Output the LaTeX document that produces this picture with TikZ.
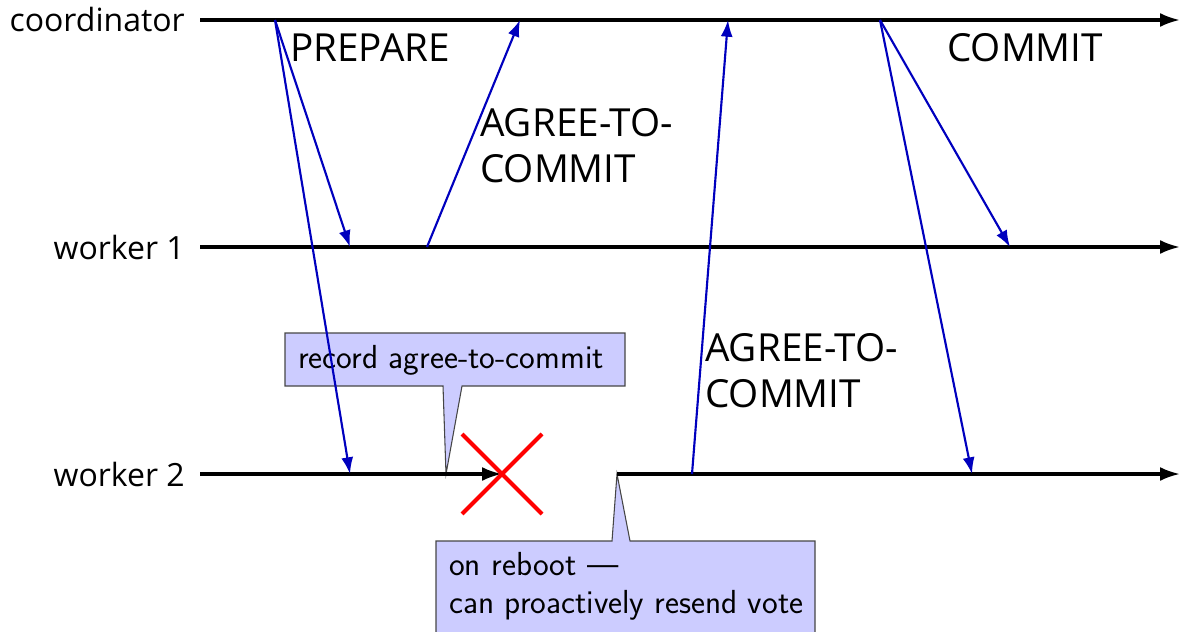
\documentclass[tikz,border=0pt]{standalone}
\usepackage{fontspec}
\usetikzlibrary{arrows.meta}
\newfontfamily\lblfont{Open Sans}
\definecolor{msgblue}{RGB}{0,0,190}
\definecolor{notefill}{RGB}{204,204,255}
\definecolor{noteedge}{RGB}{70,70,70}
\begin{document}
\begin{tikzpicture}[x=0.75pt,y=-0.75pt,
  timeline/.style={line width=2.3pt,-{Latex[length=15pt,width=10.5pt]}},
  msg/.style={msgblue,line width=1.6pt,-{Latex[length=12.5pt,width=9pt]}},
  proc/.style={font=\lblfont\fontsize{24}{28}\selectfont,anchor=east,inner sep=0pt},
  msglabel/.style={font=\lblfont\fontsize{29}{34}\selectfont,anchor=base west,inner sep=0pt,align=left},
  note/.style={fill=notefill,draw=noteedge,line width=0.8pt},
  notetext/.style={font=\sffamily\fontsize{25}{28.5}\selectfont,anchor=base west,inner sep=0pt,align=left},
  crash/.style={red,line width=3pt}]
\useasboundingbox (0,0) rectangle (1180,631);
\clip (0,0) rectangle (1180,631);

% process names
\node[proc] (coord) at (185,20) {coordinator};
\node[proc] (w1) at (185,247) {worker 1};
\node[proc] (w2) at (185,474) {worker 2};

% timeline anchors
\coordinate (cS) at (200,20);   \coordinate (cE) at (1180,20);
\coordinate (w1S) at (200,247); \coordinate (w1E) at (1180,247);
\coordinate (w2S) at (200,474); \coordinate (w2X) at (502,474);
\coordinate (w2R) at (617,474); \coordinate (w2E) at (1180,474);

% message events
\coordinate (c1) at (275,20);
\coordinate (w1a) at (350,247);
\coordinate (w2a) at (350,474);
\coordinate (w1b) at (427,247);
\coordinate (c2) at (520,20);
\coordinate (w2b) at (692,474);
\coordinate (c3) at (728,20);
\coordinate (c4) at (880,20);
\coordinate (w1c) at (1010,247);
\coordinate (w2c) at (972,474);

% callouts (drawn under the timelines)
\path[note] (285,333) -- (625,333) -- (625,386) -- (462,386) -- (446,474)
  -- (443,386) -- (285,386) -- cycle;
\node[notetext] (rec) at (298,368) {record agree-to-commit};
\path[note] (436,541) -- (612,541) -- (w2R) -- (630,541) -- (815,541)
  -- (815,660) -- (436,660) -- cycle;
\node[notetext] (reboot) at (449,613) {on reboot ---\\can proactively resend vote};

% timelines
\draw[timeline] (cS) -- (cE);
\draw[timeline] (w1S) -- (w1E);
\draw[timeline] (w2S) -- (w2X);
\draw[timeline] (w2R) -- (w2E);

% messages
\draw[msg] (c1) -- (w1a);
\draw[msg] (c1) -- (w2a);
\draw[msg] (w1b) -- (c2);
\draw[msg] (w2b) -- (c3);
\draw[msg] (c4) -- (w1c);
\draw[msg] (c4) -- (w2c);

% message labels
\node[msglabel] (prep) at (290,62) {PREPARE};
\node[msglabel] (agree1) at (480,182) {AGREE-TO-\\COMMIT};
\node[msglabel] (agree2) at (705,407) {AGREE-TO-\\COMMIT};
\node[msglabel] (commit) at (947,62) {COMMIT};

% crash of worker 2
\draw[crash] (462,434) -- (542,514);
\draw[crash] (462,514) -- (542,434);
\end{tikzpicture}
\end{document}
